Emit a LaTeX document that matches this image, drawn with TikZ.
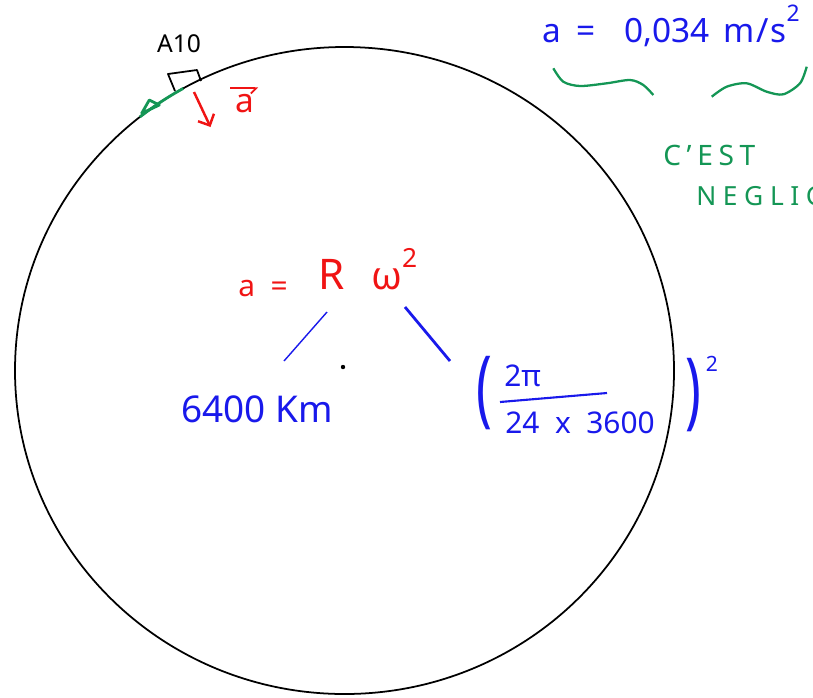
\documentclass[tikz,border=0pt]{standalone}
\usepackage{fontspec}
\setmainfont{Noto Sans}
\usepackage{amsmath}
\usepackage{graphicx}
\usepackage{tikz}
\usetikzlibrary{arrows.meta, calc}

\definecolor{penred}{RGB}{240,20,20}
\definecolor{penblue}{RGB}{25,25,235}
\definecolor{pengreen}{RGB}{20,150,85}

\begin{document}
\begin{tikzpicture}[x=0.02cm, y=-0.02cm,
    redink/.style={text=penred, inner sep=0pt},
    blueink/.style={text=penblue, inner sep=0pt},
    greenink/.style={text=pengreen, inner sep=0pt},
    fsize/.style={font=\fontsize{#1}{#1}\selectfont}]
    \useasboundingbox (0,0) rectangle (813,697);
    \clip (0,0) rectangle (813,697);

    % Earth
    \draw[line width=1pt] (344.5,370.5) ellipse [x radius=329.5, y radius=323.5];
    \fill (343,367) circle [radius=2.2];

    % Point on the surface
    \draw[pengreen, line width=1.6pt] (344.5,370.5) ++(-128.4:329.5 and 323.5)
        arc [start angle=-128.4, end angle=-119.3, x radius=329.5, y radius=323.5];
    \draw[pengreen, line width=1.6pt, line join=round] (141.7,113.3) -- (149.3,100) -- (159.3,105) -- cycle;
    \draw[line width=1pt, line join=round] (175,91) -- (168,74) -- (197,70) -- (201,81);
    \node[inner sep=0pt, fsize=14, anchor=base] (angle) at (179,52) {A10};

    % Acceleration vector
    \coordinate (accTail) at (194,92);
    \coordinate (accTip) at (210.5,127);
    \draw[penred, line width=1.4pt, -{Straight Barb[length=5pt]}] (accTail) -- (accTip);
    \node[redink, fsize=19, anchor=base] (accLabel) at (245,112) {a};
    \draw[penred, line width=1pt, -{Straight Barb[right, length=3pt]}]
        ([xshift=-3pt, yshift=3pt]accLabel.north west) -- ([xshift=2pt, yshift=3pt]accLabel.north east);

    % Result
    \node[blueink, fsize=19, anchor=base west] (accValue) at (542,42)
        {a\hspace{9pt}=\hspace{16pt}0,034\hspace{8pt}m\kern1pt/\kern1pt s\raisebox{0.6em}{\fontsize{13}{13}\selectfont 2}};
    \draw[pengreen, line width=1.3pt] plot[smooth] coordinates {(553.3,68.3) (563.3,81.7) (580,86) (606.7,83.3) (630,80) (643.3,85) (653.3,95)};
    \draw[pengreen, line width=1.3pt] plot[smooth] coordinates {(711.7,96.7) (726.7,86.7) (746.7,83.3) (766.7,91.7) (783.3,94.3) (800,83.3) (806.7,66.7)};
    \node[greenink, fsize=16, anchor=base west] (note1) at (663,165) {\addfontfeature{LetterSpace=20}C'EST};
    \node[greenink, fsize=15, anchor=base west] (note2) at (696,205) {\addfontfeature{LetterSpace=25}NEGLIGEABLE};

    % Formula
    \node[redink, fsize=17, anchor=base] (eqLeft) at (263,296) {a\ \ =};
    \node[redink, fsize=24, anchor=base] (eqR) at (332,289) {R};
    \node[redink, fsize=22, anchor=base west] (eqW) at (371,289) {ω\raisebox{0.55em}{\fontsize{15}{15}\selectfont 2}};

    % Radius
    \coordinate (rTop) at (327,312);
    \coordinate (rEnd) at (284,361);
    \draw[penblue, line width=0.8pt] (rTop) -- (rEnd);
    \node[blueink, fsize=21, anchor=base] (radius) at (257,422) {6400 Km};

    % Angular velocity
    \coordinate (wTop) at (405,307);
    \coordinate (wEnd) at (450,361);
    \draw[penblue, line width=1.6pt] (wTop) -- (wEnd);
    \node[blueink, fsize=30] (lParen) at (484,393) {\scalebox{1}[1.6]{(}};
    \node[blueink, fsize=17, anchor=base west] (num) at (504,386) {2π};
    \draw[penblue, line width=1.2pt] (500,402) -- (607,393);
    \node[blueink, fsize=17, anchor=base west] (den) at (505,433) {24\ \ x\ \ 3600};
    \node[blueink, fsize=30] (rParen) at (693,395) {\scalebox{1}[1.6]{)}};
    \node[blueink, fsize=12] (power) at (712,364) {2};
\end{tikzpicture}
\end{document}
